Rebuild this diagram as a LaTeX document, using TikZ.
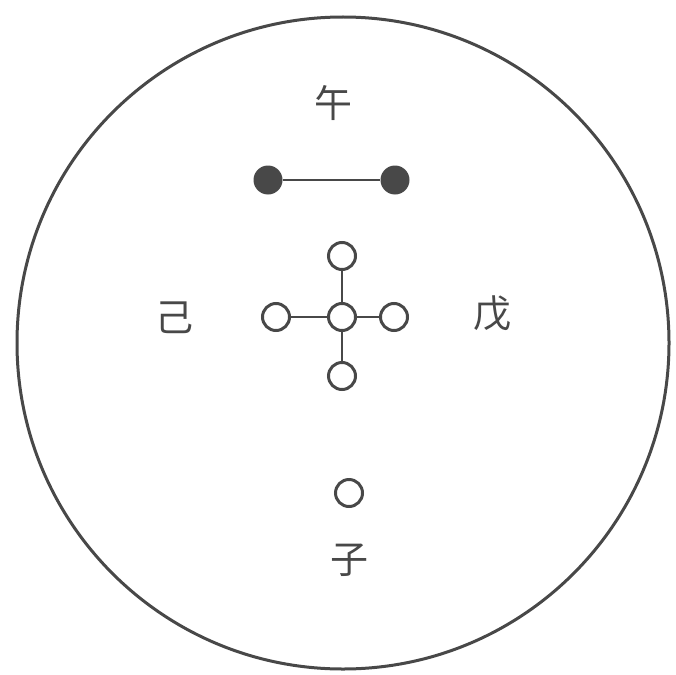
\documentclass[tikz,border=0pt]{standalone}
\usepackage{fontspec}
\usepackage{xcolor}
\usepackage{tikz}
\usetikzlibrary{positioning}
\newfontfamily\cjk{Noto Sans CJK SC}
\definecolor{inkgray}{RGB}{72, 72, 72}

\begin{document}
\begin{tikzpicture}[x=1pt, y=-1pt,
    ring/.style={circle, draw=inkgray, line width=3pt, fill=white, minimum size=27pt, inner sep=0pt},
    dot/.style={circle, fill=inkgray, minimum size=29pt, inner sep=0pt},
    stem/.style={draw=inkgray, line width=2.6pt},
    glyph/.style={font=\cjk\fontsize{38}{38}\selectfont, text=inkgray}]
\useasboundingbox (0,0) rectangle (676,674);

% Outer circle
\draw[inkgray, line width=3pt] (343,343) circle (326);

% Labels
\node[glyph] (wu) at (333,103) {午};
\node[glyph] (ji) at (174,318) {己};
\node[glyph] (mou) at (492,313) {戊};
\node[glyph] (zi) at (349,560) {子};

% Two filled dots
\node[dot] (dotL) at (268,180) {};
\node[dot] (dotR) at (395,180) {};
\draw[stem] (dotL) -- (dotR);

% Cross of rings
\node[ring] (hub) at (342,317) {};
\node[ring] (up) at (342,256) {};
\node[ring] (down) at (342,376) {};
\node[ring] (left) at (276,317) {};
\node[ring] (right) at (394,317) {};
\foreach \n in {up,down,left,right}
    \draw[stem] (hub) -- (\n);

% Single ring above the lower label
\node[ring] (lone) at (349,493) {};
\end{tikzpicture}
\end{document}
